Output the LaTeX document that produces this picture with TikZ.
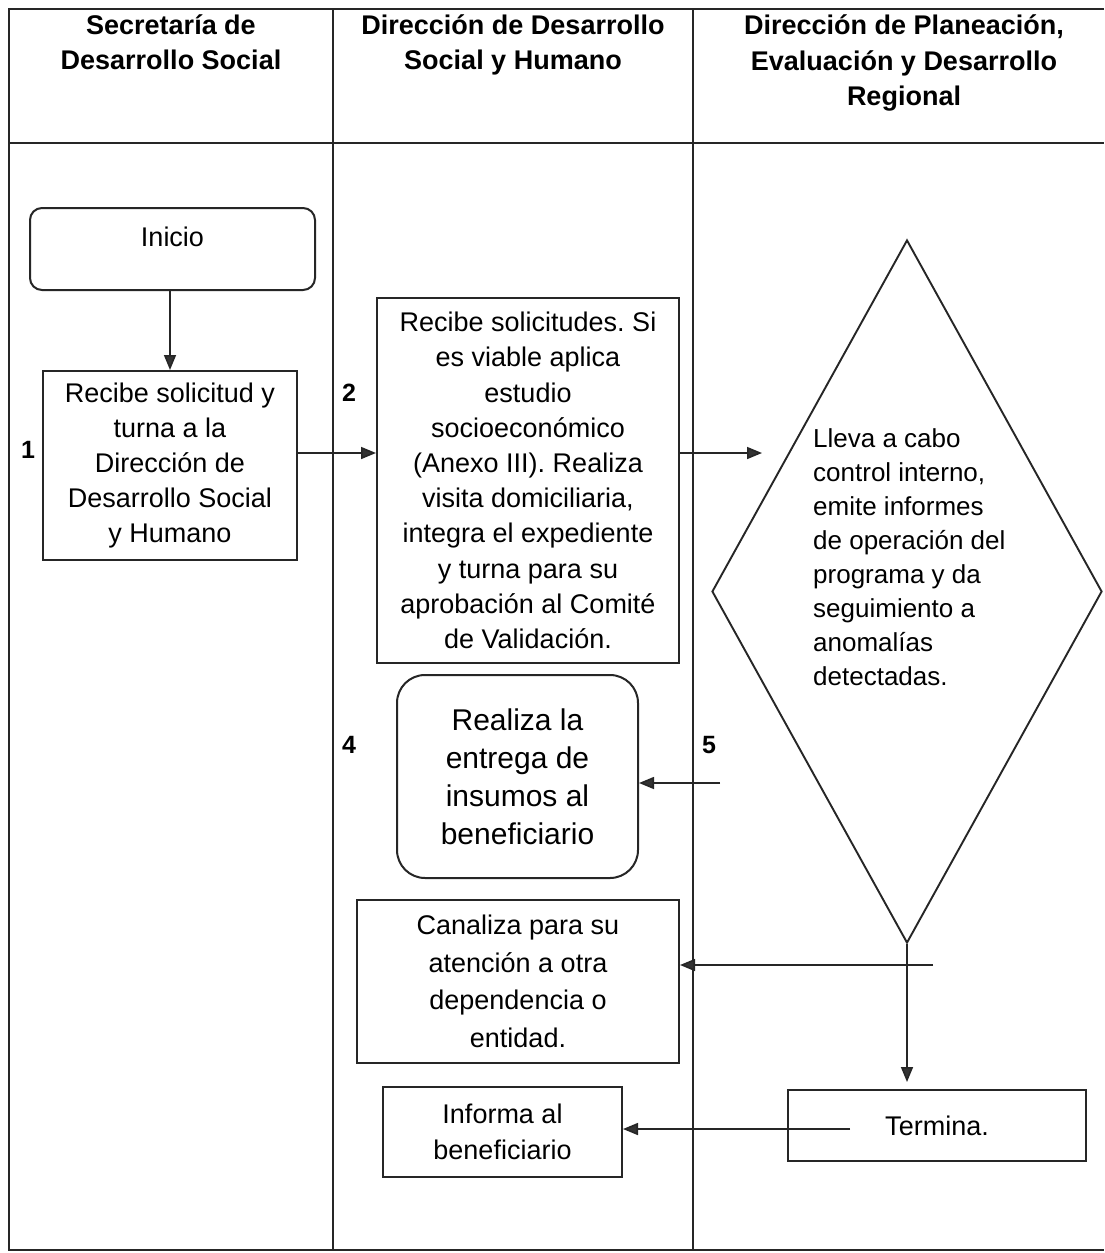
\documentclass[tikz,border=0pt]{standalone}
\usepackage{fontspec}
\setmainfont{Liberation Sans}
\usetikzlibrary{arrows.meta,shapes.geometric}
\frenchspacing
\begin{document}
\begin{tikzpicture}[x=1pt,y=-1pt,
  lane/.style={line width=2pt, draw=black!85},
  box/.style={draw=black!85, line width=2pt, rectangle, inner sep=0pt, align=center, font=\fontsize{27}{35.2}\selectfont},
  rbox/.style={box, rounded corners=14pt},
  hdr/.style={align=center, font=\fontsize{27}{35.5}\selectfont\bfseries, inner sep=0pt},
  num/.style={font=\fontsize{25}{25}\selectfont\bfseries, inner sep=0pt},
  arr/.style={line width=1.6pt, draw=black!85, -{Triangle[length=15pt,width=12pt,fill=black!80]}},
]
\fill[white] (0,0) rectangle (1104,1253);
\useasboundingbox (0,0) rectangle (1104,1253);

% swimlanes
\draw[lane] (1104,9) -- (9,9) -- (9,1250) -- (1104,1250);
\draw[lane] (9,143) -- (1104,143);
\draw[lane] (333,9) -- (333,1250);
\draw[lane] (693,9) -- (693,1250);

% headers
\node[hdr] (h1) at (171,42) {Secretaría de\\Desarrollo Social};
\node[hdr] (h2) at (513,45) {Dirección de Desarrollo\\Social y Humano};
\node[hdr] (h3) at (904,63) {Dirección de Planeación,\\Evaluación y Desarrollo\\Regional};

% step numbers
\node[num] (n1) at (28,450) {1};
\node[num] (n2) at (349,393) {2};
\node[num] (n4) at (349,745) {4};
\node[num] (n5) at (709,745) {5};

% nodes
\node[rbox, rounded corners=12pt, minimum width=285, minimum height=82, text height=19.3pt, text depth=25pt] (inicio) at (172.5,249) {Inicio};
\node[box, minimum width=254, minimum height=189] (b1) at (170,465.5) {Recibe solicitud y\\turna a la\\Dirección de\\Desarrollo Social\\y Humano};
\node[box, minimum width=302, minimum height=365] (b2) at (528,480.5) {Recibe solicitudes. Si\\es viable aplica\\estudio\\socioeconómico\\(Anexo III). Realiza\\visita domiciliaria,\\integra el expediente\\y turna para su\\aprobación al Comité\\de Validación.};
\node[rbox, rounded corners=28pt, minimum width=241, minimum height=203, font=\fontsize{30}{38}\selectfont] (b4) at (517.5,776.5) {Realiza la\\entrega de\\insumos al\\beneficiario};
\node[box, minimum width=322, minimum height=163, font=\fontsize{27}{37.6}\selectfont] (b5) at (518,981.5) {Canaliza para su\\atención a otra\\dependencia o\\entidad.};
\node[box, minimum width=239, minimum height=90, font=\fontsize{27}{36}\selectfont] (b6) at (502.5,1132) {Informa al\\beneficiario};
\node[box, minimum width=298, minimum height=71] (term) at (937,1125.5) {Termina.};
\node[draw=black!85, line width=1.9pt, diamond, minimum width=390, minimum height=703, inner sep=0pt] (dia) at (907,591.5) {};
\node[anchor=north west, align=left, inner sep=0pt, font=\fontsize{26}{34}\selectfont] (dt) at (813,428) {Lleva a cabo\\control interno,\\emite informes\\de operación del\\programa y da\\seguimiento a\\anomalías\\detectadas.};

% connectors
\coordinate (r1) at (0,453);
\coordinate (a3) at (762,453);
\coordinate (s4) at (720,783);
\coordinate (s5) at (933,965);
\coordinate (s6) at (850,1129);
\draw[arr] (b1.north |- inicio.south) -- (b1.north);
\draw[arr] (b1.east |- r1) -- (b2.west |- r1);
\draw[arr] (b2.east |- r1) -- (a3);
\draw[arr] (s4) -- (b4.east |- s4);
\draw[arr] (s5) -- (b5.east |- s5);
\draw[arr, shorten >=7pt] (dia.south) -- (dia.south |- term.north);
\draw[arr] (s6) -- (b6.east |- s6);
\end{tikzpicture}
\end{document}
